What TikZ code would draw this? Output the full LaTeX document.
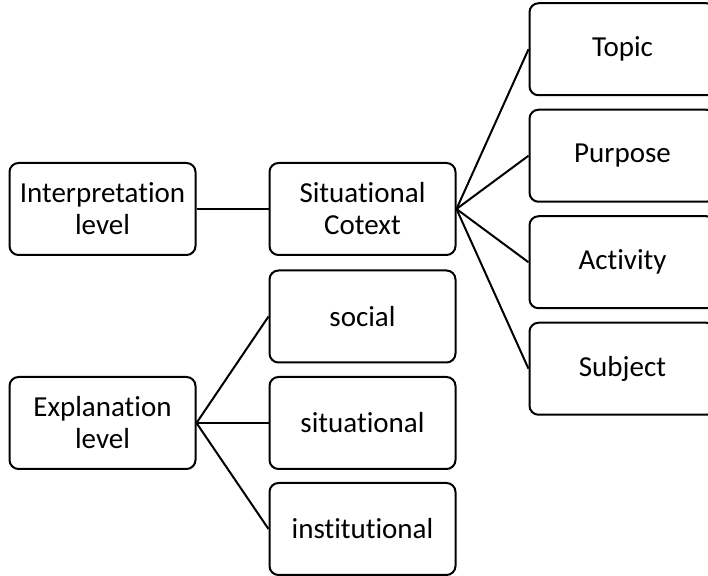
\documentclass[tikz,border=0pt]{standalone}
\usepackage{fontspec}
\setmainfont{Carlito}[Ligatures=CommonOff]
\usepackage{tikz}
\tikzstyle{boxes} = [rectangle, rounded corners=4.5pt, minimum width=93pt, minimum height=46pt, align=center,
line width=1pt, draw=black, font=\fontsize{14.5}{16}\selectfont]
\tikzstyle{link} = [line width=1pt]

\begin{document}
\begin{tikzpicture}[node distance=130pt]
            \useasboundingbox (0,0) rectangle (354pt,-288pt);
            % Draw Boxes
            \node(interp) [boxes] at (51.25pt,-104.5pt) {Interpretation\\level};
            \node(sitctx) [boxes, right of=interp] {Situational\\Cotext};
            \node(topic) [boxes, right of=sitctx, yshift=79.875pt] {Topic};
            \node(purpose) [boxes, right of=sitctx, yshift=26.625pt] {Purpose};
            \node(activity) [boxes, right of=sitctx, yshift=-26.625pt] {Activity};
            \node(subject) [boxes, right of=sitctx, yshift=-79.875pt] {Subject};
            \node(expl) [boxes, below of=interp, yshift=23pt] {Explanation\\level};
            \node(social) [boxes, right of=expl, yshift=53.25pt] {social};
            \node(situational) [boxes, right of=expl] {situational};
            \node(institutional) [boxes, right of=expl, yshift=-53pt] {institutional};

            % Draw Lines
            \draw[link] (interp) -- (sitctx);
            \draw[link] (sitctx.east) -- (topic.west);
            \draw[link] (sitctx.east) -- (purpose.west);
            \draw[link] (sitctx.east) -- (activity.west);
            \draw[link] (sitctx.east) -- (subject.west);
            \draw[link] (expl.east) -- (social.west);
            \draw[link] (expl.east) -- (situational.west);
            \draw[link] (expl.east) -- (institutional.west);
        \end{tikzpicture}
\end{document}
